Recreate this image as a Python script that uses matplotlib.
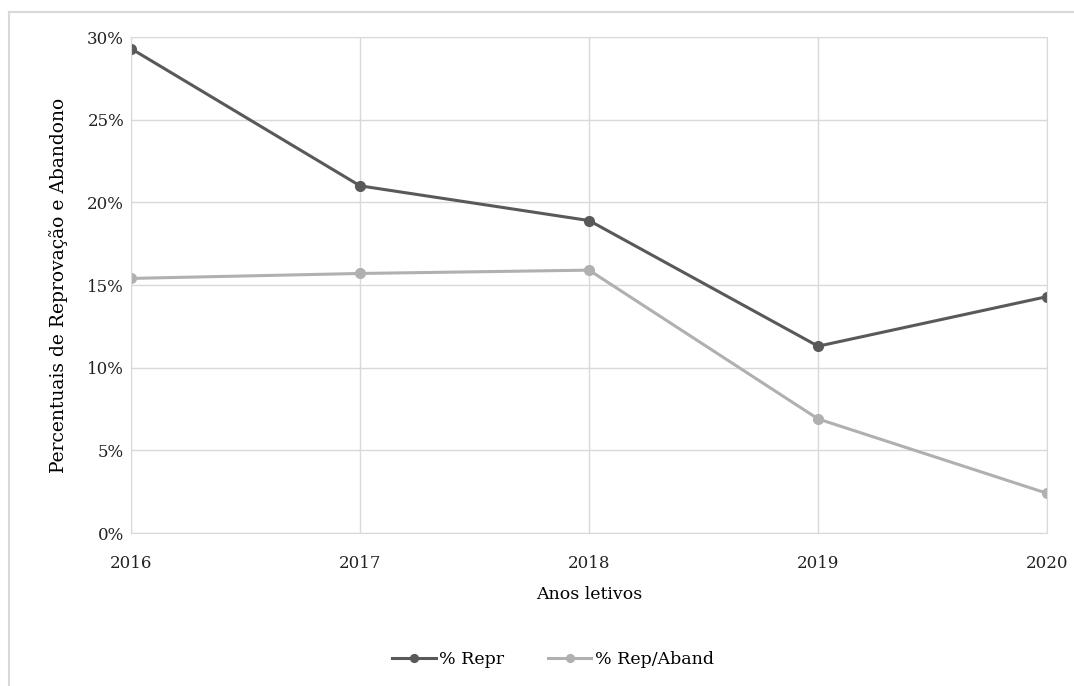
import matplotlib.pyplot as plt
from matplotlib.lines import Line2D
from matplotlib.ticker import PercentFormatter

plt.rcParams['font.family'] = ['DejaVu Serif']

anos = [2016, 2017, 2018, 2019, 2020]
repr_pct = [29.3, 21.0, 18.9, 11.3, 14.3]
rep_aband_pct = [15.4, 15.7, 15.9, 6.9, 2.4]

fig = plt.figure(figsize=(10.74, 6.86), dpi=100)
ax = fig.add_axes([0.122, 0.223, 0.853, 0.723])

# moldura externa (so topo e esquerda aparecem no recorte)
x0, y0 = 8.5 / 1074, 1 - 12 / 686
fig.lines.append(Line2D([x0, 1], [y0, y0], transform=fig.transFigure,
                        color='#d9d9d9', linewidth=1.5))
fig.lines.append(Line2D([x0, x0], [0, y0], transform=fig.transFigure,
                        color='#d9d9d9', linewidth=1.5))

ax.plot(anos, repr_pct, color='#595959', linewidth=2.2, marker='o', markersize=7,
        label='% Repr')
ax.plot(anos, rep_aband_pct, color='#b0b0b0', linewidth=2.2, marker='o', markersize=7,
        label='% Rep/Aband')

ax.set_xlim(2016, 2020)
ax.set_ylim(0, 30)
ax.set_xticks(anos)
ax.set_yticks(range(0, 31, 5))
ax.yaxis.set_major_formatter(PercentFormatter(decimals=0))
ax.grid(True, color='#d9d9d9', linewidth=1)
ax.set_axisbelow(True)
for s in ax.spines.values():
    s.set_color('#d9d9d9')
ax.tick_params(length=0, labelsize=12, colors='#222222')
ax.tick_params(axis='x', pad=16)
ax.tick_params(axis='y', pad=5)

ax.set_xlabel('Anos letivos', fontsize=12.5, labelpad=10)
ax.set_ylabel('Percentuais de Reprovação e Abandono', fontsize=13.5, labelpad=14)

fig.legend(loc='center', bbox_to_anchor=(0.515, 0.038), ncol=2, frameon=False,
           fontsize=12.5, handlelength=2.5, handletextpad=0.2, columnspacing=2.5,
           markerscale=0.8)

fig.savefig('out.png', dpi=100)
